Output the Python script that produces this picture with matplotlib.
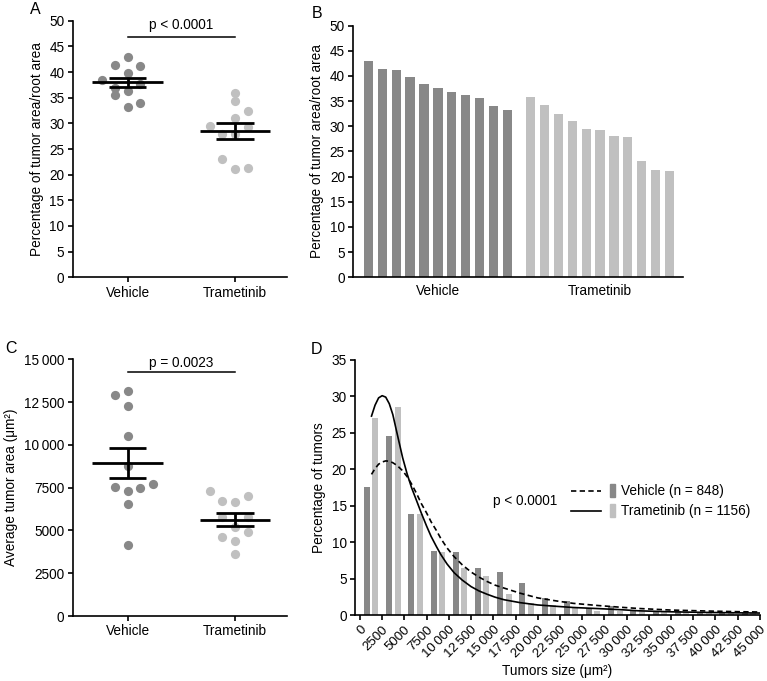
import matplotlib

matplotlib.use("Agg")
import matplotlib.pyplot as plt
import numpy as np
from matplotlib.patches import Rectangle

plt.rcParams["font.family"] = ["Liberation Sans", "DejaVu Sans"]
plt.rcParams["font.size"] = 9.8
plt.rcParams["axes.linewidth"] = 1.2
plt.rcParams["xtick.major.width"] = 1.2
plt.rcParams["ytick.major.width"] = 1.2
plt.rcParams["xtick.major.size"] = 3.5
plt.rcParams["ytick.major.size"] = 3.5

DARK = "#888888"
LIGHT = "#c0c0c0"
GROUPS = ["Vehicle", "Trametinib"]

# panel A / B: percentage of tumor area / root area (one value per plant)
pct_vehicle = [42.95, 41.45, 41.15, 39.9, 38.45, 37.7, 36.9, 36.25, 35.6, 34.0, 33.2]
pct_trametinib = [35.9, 34.3, 32.45, 31.1, 29.45, 29.35, 28.0, 27.85, 23.05, 21.25, 21.1]
pct_vehicle_slot = [0, -1, 1, 0, -2, 1, -1, 0, -1, 1, 0]
pct_trametinib_slot = [0, 0, 1, 0, -2, 1, -1, 0, -1, 1, 0]

# panel C: average tumor area (um^2)
area_vehicle = [13149, 12896, 12273, 10519, 8786, 7734, 7519, 7461, 7325, 6526, 4130]
area_trametinib = [7286, 7032, 6721, 6643, 5805, 5766, 5221, 4890, 4597, 4364, 3604]
area_vehicle_slot = [0, -1, 0, 0, 0, 2, -1, 1, 0, 0, 0]
area_trametinib_slot = [-2, 1, -1, 0, -1, 1, 0, 1, -1, 0, 0]

# panel D: size distribution, bins of 2500 um^2
bin_width = 2500
hist_vehicle = [17.5, 24.5, 13.9, 8.8, 8.7, 6.5, 5.9, 4.4, 2.4, 1.9, 0.9, 1.2, 0.7, 0.6, 0.5, 0.4, 0.4, 0.3]
hist_trametinib = [27.0, 28.6, 13.8, 8.7, 6.4, 5.4, 2.9, 1.6, 1.4, 1.1, 0.6, 0.5, 0.5, 0.4, 0.4, 0.3, 0.3, 0.25]

fit_x = [1300, 1700, 2100, 2500, 2900, 3300, 3700, 4200, 4800, 5300, 5800, 6400, 6900, 7500,
         8000, 8600, 9100, 9800, 10600, 11500, 12500, 13400, 14300, 15200, 16200, 18000,
         20000, 22000, 24000, 26800, 29500, 31300, 35000, 38700, 42400, 45000]
fit_trametinib = [27.3, 28.8, 29.8, 30.1, 29.9, 29.0, 27.5, 24.8, 21.6, 19.4, 17.5, 15.6, 14.0, 12.2,
                  10.8, 9.4, 8.3, 7.0, 5.8, 4.8, 3.9, 3.3, 2.85, 2.45, 2.1, 1.7,
                  1.38, 1.2, 1.03, 0.88, 0.72, 0.58, 0.44, 0.36, 0.3, 0.27]
fit_vehicle = [19.3, 20.1, 20.7, 21.0, 21.15, 21.1, 20.9, 20.5, 19.8, 19.0, 18.0, 16.6, 15.3, 14.0,
               12.8, 11.6, 10.5, 9.2, 8.0, 6.9, 5.9, 5.2, 4.6, 4.1, 3.7, 3.0,
               2.35, 1.95, 1.6, 1.3, 1.05, 0.9, 0.68, 0.56, 0.46, 0.41]


def style_axes(ax):
    ax.spines["top"].set_visible(False)
    ax.spines["right"].set_visible(False)
    ax.tick_params(direction="out", pad=2.5)


def thousands(v):
    return f"{v:,}".replace(",", "\u2009") if v >= 10000 else str(v)


def dot_panel(ax, values, slots, ylim, yticks, ylabel, ptext, pbar_y, ptext_y):
    colors = [DARK, LIGHT]
    step = 0.118
    for i, (vals, sl) in enumerate(zip(values, slots)):
        xs = [i + s * step for s in sl]
        ax.scatter(xs, vals, s=44, color=colors[i], linewidths=0, zorder=2)
        vals = np.asarray(vals, dtype=float)
        mean = vals.mean()
        sem = vals.std(ddof=1) / np.sqrt(len(vals))
        ax.hlines(mean, i - 0.33, i + 0.33, color="black", lw=2.0, zorder=3)
        ax.hlines([mean - sem, mean + sem], i - 0.174, i + 0.174, color="black", lw=2.0, zorder=3)
        ax.vlines(i, mean - sem, mean + sem, color="black", lw=2.0, zorder=3)
    ax.plot([0, 1], [pbar_y, pbar_y], color="black", lw=1.1, clip_on=False)
    ax.text(0.5, ptext_y, ptext, ha="center", va="center")
    ax.set_xlim(-0.513, 1.481)
    ax.set_ylim(*ylim)
    ax.set_xticks([0, 1])
    ax.set_xticklabels(GROUPS)
    ax.set_yticks(yticks)
    ax.set_yticklabels([thousands(v) for v in yticks])
    ax.set_ylabel(ylabel)
    style_axes(ax)


fig = plt.figure(figsize=(7.67, 6.81), dpi=100)

ax_a = fig.add_axes([0.0948, 0.5928, 0.2790, 0.3768])
dot_panel(ax_a, [pct_vehicle, pct_trametinib], [pct_vehicle_slot, pct_trametinib_slot],
          (0, 50), list(range(0, 51, 5)), "Percentage of tumor area/root area",
          "p < 0.0001", 46.9, 49.2)

ax_b = fig.add_axes([0.4606, 0.5928, 0.4303, 0.3695])
pos_v = np.arange(len(pct_vehicle))
pos_t = np.arange(len(pct_trametinib)) + len(pct_vehicle) + 0.7
ax_b.bar(pos_v, sorted(pct_vehicle, reverse=True), width=0.67, color=DARK)
ax_b.bar(pos_t, sorted(pct_trametinib, reverse=True), width=0.67, color=LIGHT)
ax_b.set_xlim(-1.1, pos_t[-1] + 1.0)
ax_b.set_ylim(0, 50)
ax_b.set_yticks(range(0, 51, 5))
ax_b.set_xticks([pos_v.mean(), pos_t.mean()])
ax_b.set_xticklabels(GROUPS)
ax_b.set_ylabel("Percentage of tumor area/root area")
style_axes(ax_b)
ax_b.tick_params(axis="x", length=0, pad=5)

ax_c = fig.add_axes([0.0948, 0.0954, 0.2790, 0.3770])
dot_panel(ax_c, [area_vehicle, area_trametinib], [area_vehicle_slot, area_trametinib_slot],
          (0, 15000), list(range(0, 15001, 2500)), "Average tumor area (\u03bcm\u00b2)",
          "p = 0.0023", 14240, 14766)

ax_d = fig.add_axes([0.4628, 0.0969, 0.5280, 0.3745])
starts = np.arange(len(hist_vehicle)) * bin_width
ax_d.bar(starts + 0.31 * bin_width, hist_vehicle, width=0.27 * bin_width, color=DARK)
ax_d.bar(starts + 0.69 * bin_width, hist_trametinib, width=0.27 * bin_width, color=LIGHT)
ax_d.plot(fit_x, fit_vehicle, color="black", lw=1.2, ls=(0, (3.2, 2.0)))
ax_d.plot(fit_x, fit_trametinib, color="black", lw=1.2)
ax_d.set_xlim(-560, 45000)
ax_d.set_ylim(0, 35)
ax_d.set_yticks(range(0, 36, 5))
xt = list(range(0, 45001, 2500))
ax_d.set_xticks(xt)
ax_d.set_xticklabels([thousands(v) for v in xt], rotation=45, ha="right", va="top",
                     rotation_mode="anchor", fontsize=9.5)
ax_d.set_xlabel("Tumors size (\u03bcm\u00b2)", labelpad=3)
ax_d.set_ylabel("Percentage of tumors")
style_axes(ax_d)

ax_d.text(0.341, 0.448, "p < 0.0001", transform=ax_d.transAxes, ha="left", va="center")
for row_y, style, color, label in [(0.487, (0, (3.2, 2.0)), DARK, "Vehicle (n = 848)"),
                                   (0.409, "-", LIGHT, "Trametinib (n = 1156)")]:
    ax_d.plot([0.534, 0.607], [row_y, row_y], transform=ax_d.transAxes, color="black",
              lw=1.2, ls=style, clip_on=False)
    ax_d.add_patch(Rectangle((0.629, row_y - 0.026), 0.012, 0.052, transform=ax_d.transAxes,
                             color=color, clip_on=False))
    ax_d.text(0.656, row_y, label, transform=ax_d.transAxes, ha="left", va="center")

for letter, x, y in [("A", 35, 9.5), ("B", 316.7, 13.8), ("C", 10.5, 348.3), ("D", 316.7, 349)]:
    fig.text(x / 767, 1 - y / 681, letter, ha="center", va="center", fontsize=11.5)

fig.savefig("out.png", dpi=100)
